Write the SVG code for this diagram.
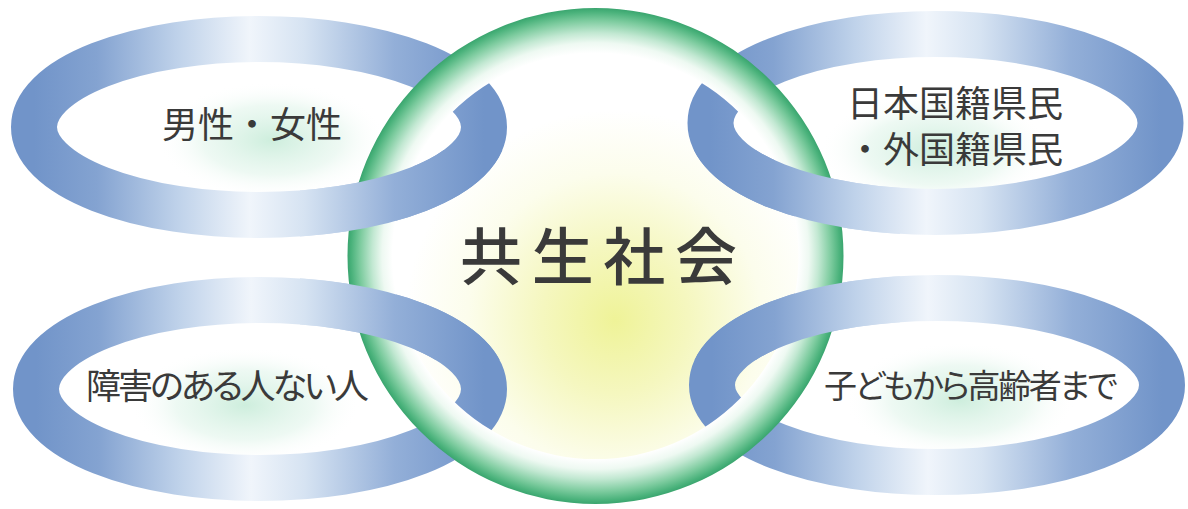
<svg xmlns="http://www.w3.org/2000/svg" width="1188" height="509" viewBox="0 0 1188 509">
  <defs>
    <style>
      .band { fill: none; stroke-width: 46; }
      .lbl { font-family: "Noto Sans CJK JP", "Noto Sans CJK SC", sans-serif; fill: #3a3a3a; font-weight: 400; }
      .prop { font-feature-settings: "palt"; }
      .title { font-family: "Noto Sans CJK JP", "Noto Sans CJK SC", sans-serif; fill: #3a3a3a; font-weight: 500; }
    </style>
    <linearGradient id="blue" x1="0" y1="0" x2="1" y2="0">
      <stop offset="0" stop-color="#7194c9"/>
      <stop offset="0.14" stop-color="#84a3d1"/>
      <stop offset="0.32" stop-color="#bfd2ea"/>
      <stop offset="0.48" stop-color="#f0f5fb"/>
      <stop offset="0.6" stop-color="#d6e3f2"/>
      <stop offset="0.8" stop-color="#93afd8"/>
      <stop offset="1" stop-color="#7194c9"/>
    </linearGradient>
    <radialGradient id="mint" cx="0.5" cy="0.5" r="0.5">
      <stop offset="0" stop-color="#c8ecd9" stop-opacity="0.9"/>
      <stop offset="0.6" stop-color="#dcf3e7" stop-opacity="0.5"/>
      <stop offset="1" stop-color="#ffffff" stop-opacity="0"/>
    </radialGradient>
    <radialGradient id="yellow" gradientUnits="userSpaceOnUse" cx="615" cy="320" r="210">
      <stop offset="0" stop-color="#eff398"/>
      <stop offset="0.35" stop-color="#f5f7bf"/>
      <stop offset="0.7" stop-color="#fcfdec"/>
      <stop offset="1" stop-color="#ffffff"/>
    </radialGradient>
    <radialGradient id="green" gradientUnits="userSpaceOnUse" cx="595.5" cy="256" r="248">
      <stop offset="0.818" stop-color="#ffffff"/>
      <stop offset="0.86" stop-color="#eef9f2"/>
      <stop offset="0.9" stop-color="#c2e8d2"/>
      <stop offset="0.95" stop-color="#7ccb9e"/>
      <stop offset="0.985" stop-color="#4ab27b"/>
      <stop offset="1" stop-color="#3aa56f"/>
    </radialGradient>
    <clipPath id="frontTL"><rect x="300" y="150" width="220" height="110"/></clipPath>
    <clipPath id="frontTR"><rect x="680" y="150" width="220" height="110"/></clipPath>
    <clipPath id="frontBL"><rect x="300" y="250" width="220" height="110"/></clipPath>
    <clipPath id="frontBR"><rect x="680" y="250" width="220" height="110"/></clipPath>
  </defs>

  <rect width="1188" height="509" fill="#ffffff"/>

  <!-- soft mint clouds inside the rings -->
  <g id="clouds">
    <ellipse cx="272" cy="140" rx="115" ry="58" fill="url(#mint)"/>
    <ellipse cx="935" cy="150" rx="115" ry="58" fill="url(#mint)"/>
    <ellipse cx="245" cy="405" rx="115" ry="58" fill="url(#mint)"/>
    <ellipse cx="960" cy="400" rx="115" ry="58" fill="url(#mint)"/>
  </g>

  <!-- central circle interior -->
  <g id="center-disk">
    <circle cx="595.5" cy="256" r="248" fill="url(#yellow)"/>
  </g>

  <!-- ring bands (back layer) -->
  <g id="rings-back">
    <ellipse class="band" cx="259" cy="127" rx="225" ry="88" stroke="url(#blue)"/>
    <ellipse class="band" cx="935.5" cy="123" rx="225" ry="89" stroke="url(#blue)"/>
    <ellipse class="band" cx="260" cy="389" rx="224" ry="89" stroke="url(#blue)"/>
    <ellipse class="band" cx="937" cy="385" rx="225" ry="87" stroke="url(#blue)"/>
  </g>

  <!-- central circle green band -->
  <g id="center-band">
    <path fill="url(#green)" fill-rule="evenodd" d="M347.5 256A248 248 0 1 0 843.5 256A248 248 0 1 0 347.5 256ZM392.5 256A203 203 0 1 0 798.5 256A203 203 0 1 0 392.5 256Z"/>
  </g>

  <!-- connectors: front crossings of the rings over the circle -->
  <g id="connectors">
    <ellipse class="band" cx="259" cy="127" rx="225" ry="88" stroke="url(#blue)" clip-path="url(#frontTL)"/>
    <ellipse class="band" cx="935.5" cy="123" rx="225" ry="89" stroke="url(#blue)" clip-path="url(#frontTR)"/>
    <ellipse class="band" cx="260" cy="389" rx="224" ry="89" stroke="url(#blue)" clip-path="url(#frontBL)"/>
    <ellipse class="band" cx="937" cy="385" rx="225" ry="87" stroke="url(#blue)" clip-path="url(#frontBR)"/>
  </g>

  <g id="node-center">
    <text class="title" x="460" y="280" font-size="62" textLength="277" lengthAdjust="spacing">共生社会</text>
  </g>
  <g id="node-gender">
    <text class="lbl" x="162" y="138" font-size="36">男性・女性</text>
  </g>
  <g id="node-nationality">
    <text class="lbl" font-size="36"><tspan x="847" y="117">日本国籍県民</tspan><tspan x="847" y="163">・外国籍県民</tspan></text>
  </g>
  <g id="node-disability">
    <text class="lbl prop" x="86" y="399" font-size="35" textLength="283" lengthAdjust="spacing">障害のある人ない人</text>
  </g>
  <g id="node-age">
    <text class="lbl prop" x="824" y="398" font-size="33" textLength="294" lengthAdjust="spacing">子どもから高齢者まで</text>
  </g>
</svg>
